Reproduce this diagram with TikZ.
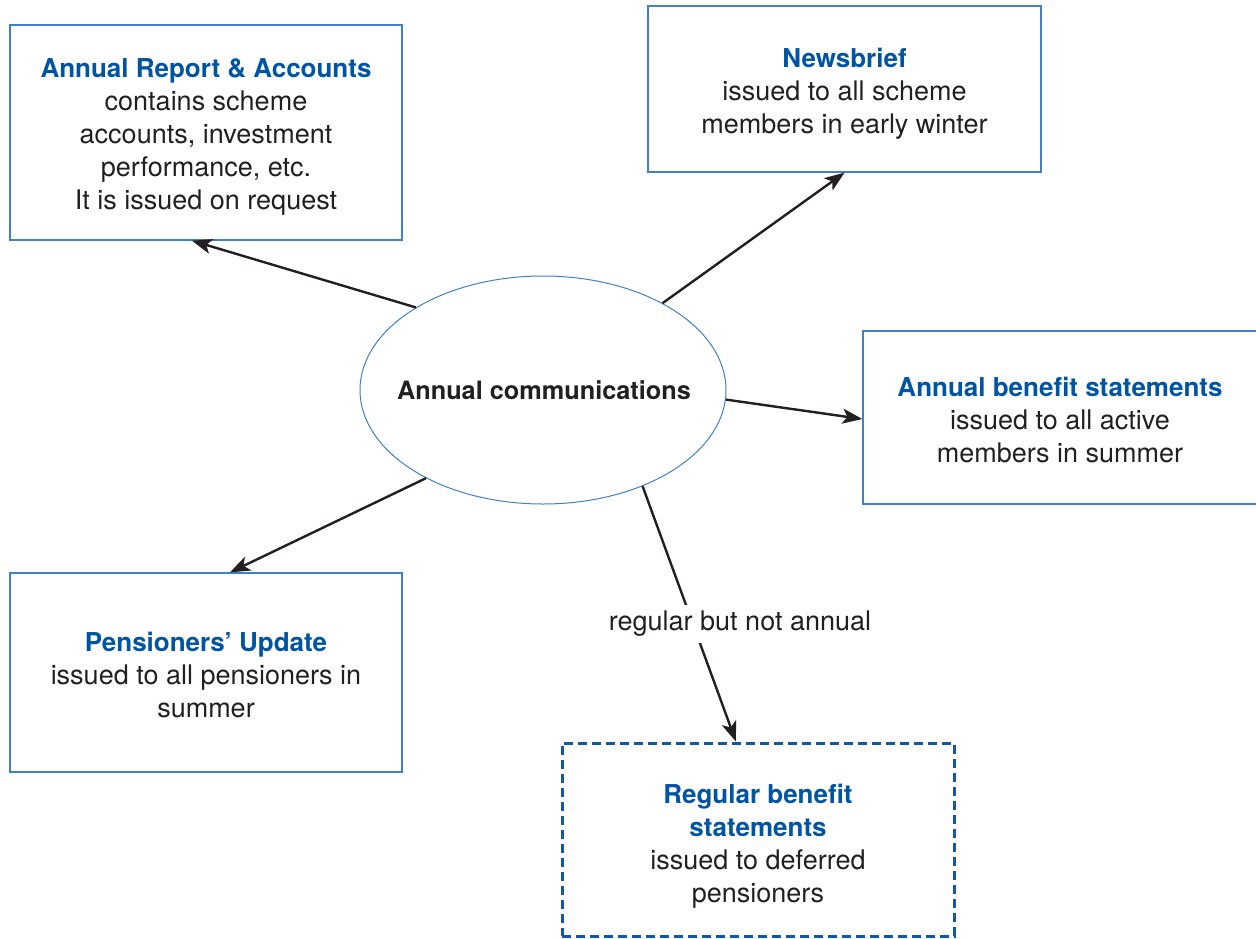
\documentclass[tikz,border=0pt]{standalone}
\usepackage{fontspec}
\setmainfont{TeX Gyre Heros}
\usetikzlibrary{arrows.meta,calc,shapes.geometric}
\definecolor{titleblue}{RGB}{0,84,164}
\definecolor{edgeblue}{RGB}{64,128,200}
\definecolor{dashblue}{RGB}{16,88,170}
\definecolor{ink}{RGB}{35,31,32}
\newcommand{\headline}[1]{{\color{titleblue}\bfseries\fontsize{26}{33}\selectfont #1}}
\begin{document}
\begin{tikzpicture}[x=1pt,y=-1pt,
  panel/.style={draw=edgeblue,line width=1.3pt,inner sep=0pt},
  dashpanel/.style={draw=dashblue,line width=3pt,inner sep=0pt,dash pattern=on 9pt off 5pt},
  blurb/.style={align=center,text=ink,font=\fontsize{27}{33}\selectfont,inner sep=0pt},
  link/.style={draw=ink,line width=2.4pt,-{Stealth[length=20pt,width=15pt,inset=5pt]}}]
\useasboundingbox (0,0) rectangle (1256,938);

% central ellipse
\node[ellipse,draw=edgeblue,line width=1pt,minimum width=366pt,minimum height=228pt,inner sep=0pt] (comm) at (543,390) {};
\node[blurb,font=\bfseries\fontsize{25.3}{33}\selectfont] (commtext) at (544,390) {Annual communications};

% surrounding panels
\node[panel,minimum width=392pt,minimum height=215pt] (ar) at (206,132.5) {};
\node[blurb] (artext) at (206,137) {\headline{Annual Report \& Accounts}\\contains scheme\\accounts, investment\\performance, etc.\\It is issued on request};

\node[panel,minimum width=393pt,minimum height=166pt] (nb) at (844.5,89) {};
\node[blurb] (nbtext) at (844.5,94) {\headline{Newsbrief}\\issued to all scheme\\members in early winter};

% this panel runs past the right edge of the page
\node[panel,minimum width=400pt,minimum height=173pt] (ab) at (1063,417.5) {};
\node[blurb] (abtext) at (1060,420.5) {\headline{Annual benefit statements}\\issued to all active\\members in summer};

\node[panel,minimum width=392pt,minimum height=199pt] (pu) at (206,672.5) {};
\node[blurb] (putext) at (206,675) {\headline{Pensioners’ Update}\\issued to all pensioners in\\summer};

\node[dashpanel,minimum width=392pt,minimum height=193pt] (rb) at (758,839.5) {};
\node[blurb] (rbtext) at (758,846.5) {\headline{Regular benefit}\\\headline{statements}\\issued to deferred\\pensioners};

% connectors
\draw[link] (comm.147) -- ($(ar.south west)!0.464!(ar.south east)$);
\draw[link] (comm.36) -- (nb.south);
\draw[link] (comm.-3) -- ($(ab.west)+(0,1.5)$);
\draw[link] (comm.217.5) -- ($(pu.north west)!0.561!(pu.north east)$);
\draw[link] (comm.-44.4) -- ($(rb.north west)!0.444!(rb.north east)$);
\node[blurb,fill=white,inner xsep=4pt,inner ysep=6.5pt] (regnote) at (740,624) {regular but not annual};
\end{tikzpicture}
\end{document}
